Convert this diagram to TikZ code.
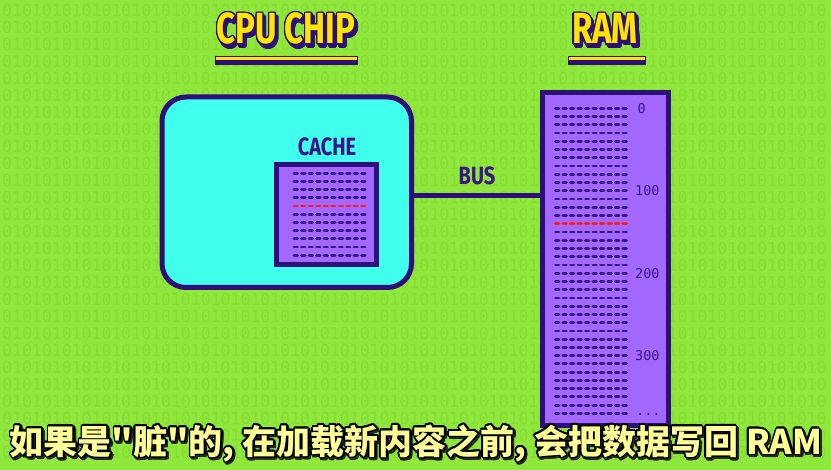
\documentclass[tikz,border=0pt]{standalone}
\usepackage{fontspec}
\usepackage{contour}
\setmainfont{Fira Sans}
\newfontfamily\titlefont[FakeStretch=0.76]{Fira Sans}
\newfontfamily\labelfont[FakeStretch=0.80]{Fira Sans}
\newfontfamily\ramfont{DejaVu Sans Mono}
\newfontfamily\cjk{Noto Sans CJK SC}
\definecolor{bg}{HTML}{8FE83B}
\definecolor{bincol}{HTML}{86DD33}
\definecolor{cpucyan}{HTML}{40FFEC}
\definecolor{dpurple}{HTML}{2E0E78}
\definecolor{pfill}{HTML}{A368FF}
\definecolor{dashcol}{HTML}{3A1585}
\definecolor{tyellow}{HTML}{FFE500}
\definecolor{syellow}{HTML}{FFFF99}
\definecolor{hotred}{HTML}{FF1A1A}
\newcommand\titletext[1]{\contourlength{1.4pt}\rlap{\hspace{2.2pt}\raisebox{-2.8pt}{\textcolor{dpurple}{\contour{dpurple}{#1}}}}\textcolor{tyellow}{\contour{dpurple}{#1}}}
\newcommand\subtext[1]{\contourlength{1.6pt}\rlap{\hspace{1.5pt}\raisebox{-1.8pt}{\textcolor{black!85}{\contour{black!85}{#1}}}}\textcolor{syellow}{\contour{black}{#1}}}
\begin{document}
\begin{tikzpicture}[x=1pt,y=-1pt,
  bin/.style={font=\ramfont\fontsize{16.5pt}{16.5pt}\selectfont, text=bincol, inner sep=0pt, anchor=west},
  titlestyle/.style={font=\titlefont\bfseries\fontsize{43.5pt}{43.5pt}\selectfont, inner sep=0pt},
  boxlabel/.style={font=\labelfont\bfseries\fontsize{25pt}{25pt}\selectfont, text=dashcol, inner sep=0pt},
  cpubox/.style={draw=dpurple, line width=5pt, fill=cpucyan, rounded corners=24pt, inner sep=0pt},
  membox/.style={draw=dpurple, line width=5pt, fill=pfill, inner sep=0pt},
  dashrow/.style={draw=dashcol, line width=2.8pt, line cap=round, dash pattern=on 3.6pt off 3.9pt},
  hotrow/.style={dashrow, draw=hotred},
  ramlabel/.style={font=\ramfont\fontsize{13.5pt}{13.5pt}\selectfont, text=dashcol, inner sep=0pt},
  busline/.style={draw=dpurple, line width=5pt},
  subtitle/.style={font=\cjk\bfseries\fontsize{34pt}{34pt}\selectfont, inner sep=0pt}
]
\useasboundingbox (0,0) rectangle (831,470);
\fill[bg] (0,0) rectangle (831,470);
% faint binary background
\foreach \row [evaluate=\row as \ypos using {10+17*\row}] in {0,...,26}{
  \node[bin] (bin\row) at (2,\ypos) {01010101010101010101010101010101010101010101010101010101010101010101010101010101010};
}
% titles
\node[titlestyle] (tcpu) at (286,31) {\titletext{CPU CHIP}};
\node[titlestyle] (tram) at (605,31) {\titletext{RAM}};
\draw[dpurple, line width=1pt, fill=tyellow] (215,57) rectangle (357,61);
\fill[dpurple] (214.5,61) rectangle (357.5,65);
\draw[dpurple, line width=1pt, fill=tyellow] (568,57) rectangle (645,61);
\fill[dpurple] (567.5,61) rectangle (645.5,65);
% boxes
\node[cpubox, minimum width=249.5pt, minimum height=190.5pt] (cpu) at (286.75,192.25) {};
\node[membox, minimum width=100pt, minimum height=100pt] (cache) at (326.5,214.5) {};
\node[membox, minimum width=125.8pt, minimum height=333.3pt] (ram) at (605.4,259.2) {};
\node[boxlabel] (cachelbl) at (327,147) {CACHE};
\node[boxlabel] (buslbl) at (477,175.5) {BUS};
% bus
\coordinate (busy) at (0,195.2);
\draw[busline] (cpu.east |- busy) -- (ram.west |- busy);
% cache rows
\foreach \k in {0,...,10}{
  \ifnum\k=4
    \draw[hotrow] (294,173.3+8.2*\k) -- ++(71.1,0);
  \else
    \draw[dashrow] (294,173.3+8.2*\k) -- ++(71.1,0);
  \fi
}
% ram rows
\foreach \k in {0,...,37}{
  \ifnum\k=14
    \draw[hotrow] (555.4,108.3+8.245*\k) -- ++(71.1,0);
  \else
    \draw[dashrow] (555.4,108.3+8.245*\k) -- ++(71.1,0);
  \fi
}
\node[ramlabel, anchor=west] (a0) at (637.5,108.3) {0};
\node[ramlabel, anchor=west] (a100) at (635,190.8) {100};
\node[ramlabel, anchor=west] (a200) at (635,273.2) {200};
\node[ramlabel, anchor=west] (a300) at (635,355.6) {300};
\node[ramlabel, anchor=base west] (adots) at (636,415.5) {...};
% subtitle
\node[subtitle] (sub) at (416,445) {\subtext{如果是"脏"的, 在加载新内容之前, 会把数据写回 RAM}};
\end{tikzpicture}
\end{document}
